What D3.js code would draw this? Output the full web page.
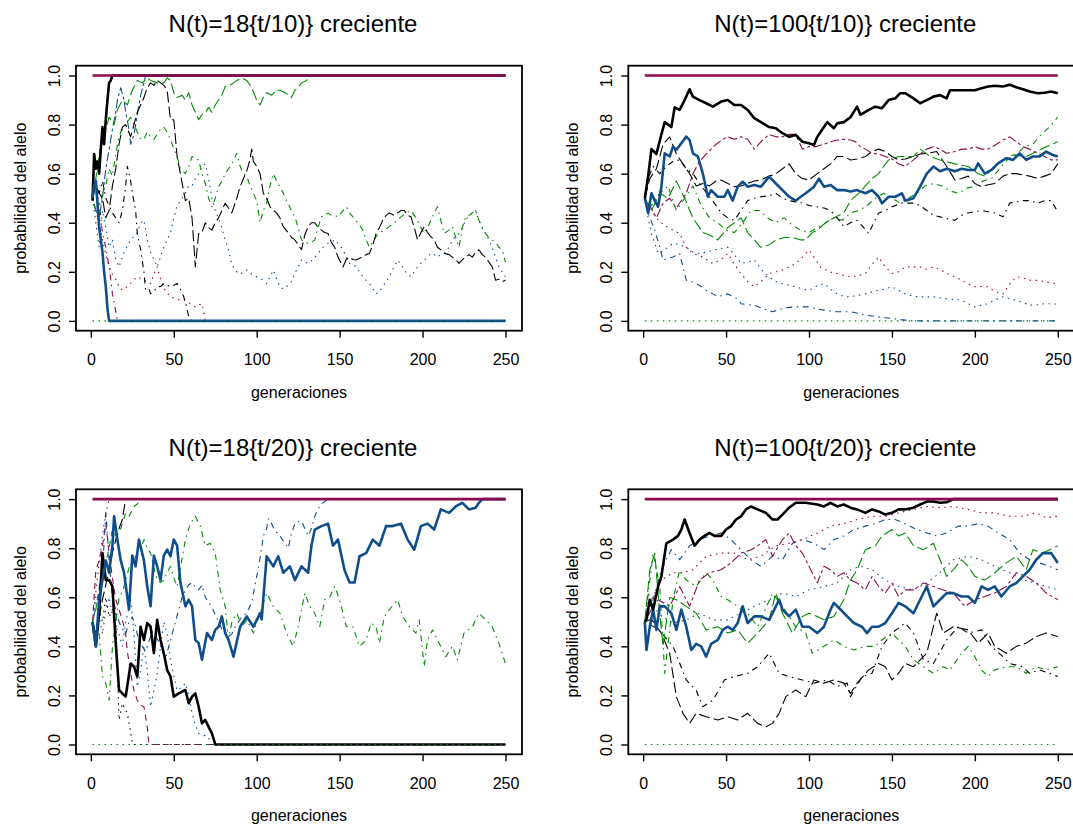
<!DOCTYPE html>
<html>
<head>
<meta charset="utf-8">
<script src="https://cdn.jsdelivr.net/npm/d3@7"></script>
<style>
  body { margin: 0; background: #fff; }
  svg { display: block; }
</style>
</head>
<body>
<svg id="chart" width="1073" height="827"></svg>
<script>
const xTicks = [0, 50, 100, 150, 200, 250];
const yTicks = [0, 0.2, 0.4, 0.6, 0.8, 1];
const titles = [
  "N(t)=18{t/10)} creciente",
  "N(t)=100{t/10)} creciente",
  "N(t)=18{t/20)} creciente",
  "N(t)=100{t/20)} creciente"
];
const xLabel = "generaciones";
const yLabel = "probabilidad del alelo";

// ---- panel 1: N(t)=18{t/10)} ----  [generación, probabilidad]
const tlBlackThick = [[1,.49],[2,.68],[3,.62],[4,.65],[5,.6],[6,.7],[7,.79],[8,.72],[9,.82],[10,.9],[11,.97],[12,.98],[13,1],[250,1]];
const tlBlueThick = [[1,.5],[2,.55],[3,.57],[4,.48],[5,.38],[6,.33],[7,.28],[8,.2],[9,.14],[10,.05],[11,0],[250,0]];
const tlBlackLong = [[1,.5],[3,.55],[5,.52],[7,.5],[9,.42],[11,.45],[13,.55],[15,.62],[17,.72],[19,.79],[21,.8],[24,.75],[26,.8],[28,.85],[30,.88],[32,.91],[34,.95],[36,.97],[38,.96],[40,.98],[42,.97],[44,.96],[46,.94],[48,.82],[50,.82],[52,.67],[54,.6],[57,.49],[59,.5],[61,.42],[63,.22],[65,.356],[67,.36],[69,.4],[71,.38],[73,.37],[75,.4],[77,.42],[79,.45],[81,.48],[83,.46],[85,.44],[88,.5],[90,.547],[92,.58],[94,.61],[96,.66],[97,.7],[98,.65],[100,.63],[102,.6],[104,.52],[106,.5],[108,.465],[110,.45],[112,.44],[114,.42],[116,.384],[119,.36],[121,.34],[123,.33],[125,.31],[127,.29],[129,.35],[131,.384],[133,.4],[135,.4],[137,.38],[139,.37],[141,.36],[143,.356],[145,.32],[147,.3],[149,.26],[152,.22],[154,.25],[156,.26],[158,.25],[160,.248],[162,.255],[164,.26],[166,.27],[168,.275],[170,.31],[172,.356],[174,.38],[176,.41],[178,.43],[180,.44],[183,.43],[185,.44],[187,.45],[189,.45],[191,.43],[193,.424],[195,.38],[197,.33],[199,.36],[201,.384],[203,.36],[205,.343],[207,.33],[209,.3],[211,.29],[213,.275],[216,.27],[218,.26],[220,.25],[222,.234],[224,.25],[226,.26],[228,.27],[230,.26],[232,.28],[234,.29],[236,.27],[238,.26],[240,.24],[242,.22],[244,.166],[246,.17],[248,.16],[250,.166]];
const tlGreenLong = [[1,.5],[3,.58],[5,.68],[7,.74],[9,.78],[11,.83],[14,.8],[16,.86],[19,.9],[22,.88],[25,.94],[28,.98],[31,.97],[34,.99],[36,.98],[40,.97],[44,.97],[46,.99],[48,.98],[50,.93],[52,.91],[55,.92],[57,.9],[59,.93],[61,.88],[63,.85],[65,.82],[67,.84],[69,.85],[71,.87],[73,.85],[75,.88],[77,.9],[79,.92],[81,.955],[84,.96],[86,.97],[88,.98],[91,.99],[94,.98],[97,.95],[100,.9],[102,.88],[104,.91],[106,.93],[109,.92],[112,.94],[114,.94],[117,.93],[119,.92],[121,.91],[123,.94],[125,.95],[127,.97],[130,.98],[133,1],[250,1]];
const tlGreenDotdash = [[1,.5],[3,.45],[5,.42],[7,.52],[9,.55],[11,.62],[13,.59],[15,.68],[17,.75],[19,.79],[21,.8],[24,.83],[26,.8],[28,.77],[30,.74],[32,.74],[34,.77],[36,.75],[38,.74],[40,.76],[42,.78],[44,.79],[46,.77],[48,.74],[50,.7],[52,.67],[54,.62],[57,.6],[59,.63],[61,.67],[63,.66],[65,.656],[67,.6],[69,.56],[71,.5],[73,.465],[75,.5],[77,.547],[79,.57],[81,.6],[83,.62],[85,.64],[88,.683],[90,.63],[92,.6],[94,.59],[96,.55],[98,.52],[100,.49],[102,.4],[104,.45],[106,.48],[108,.55],[110,.6],[112,.57],[114,.547],[116,.52],[118,.49],[121,.45],[123,.424],[125,.38],[127,.33],[129,.32],[131,.316],[133,.32],[135,.33],[137,.38],[139,.424],[141,.43],[143,.44],[145,.43],[147,.43],[149,.424],[151,.44],[154,.465],[156,.44],[158,.424],[161,.4],[164,.37],[166,.33],[168,.3],[170,.32],[172,.343],[174,.36],[177,.37],[180,.384],[183,.4],[187,.424],[190,.44],[193,.45],[195,.43],[197,.41],[199,.38],[201,.356],[203,.38],[205,.41],[207,.44],[209,.465],[211,.41],[213,.356],[216,.37],[218,.384],[220,.34],[222,.3],[224,.38],[226,.424],[228,.43],[230,.44],[232,.45],[234,.41],[236,.38],[238,.356],[240,.34],[242,.33],[244,.32],[246,.3],[248,.29],[250,.24]];
const tlBlueDot = [[1,.5],[3,.4],[5,.3],[7,.45],[9,.38],[11,.3],[13,.33],[15,.25],[17,.22],[20,.28],[24,.33],[28,.36],[30,.4],[32,.41],[34,.33],[36,.28],[38,.25],[40,.22],[42,.26],[44,.3],[46,.33],[48,.36],[50,.42],[52,.47],[55,.5],[57,.52],[59,.55],[61,.55],[63,.58],[65,.6],[67,.63],[69,.64],[71,.58],[73,.5],[75,.45],[78,.4],[81,.33],[83,.29],[85,.23],[88,.2],[90,.19],[92,.2],[94,.207],[97,.19],[100,.18],[103,.17],[106,.152],[108,.18],[110,.207],[112,.17],[114,.139],[116,.13],[118,.139],[121,.16],[123,.193],[125,.22],[127,.248],[129,.24],[131,.234],[134,.25],[137,.275],[140,.3],[143,.316],[145,.32],[147,.33],[150,.31],[152,.29],[154,.26],[156,.234],[158,.23],[160,.22],[162,.2],[164,.18],[166,.165],[168,.152],[170,.13],[172,.11],[174,.12],[176,.139],[178,.16],[180,.18],[182,.21],[185,.248],[187,.23],[189,.207],[191,.19],[193,.18],[195,.2],[197,.22],[199,.235],[201,.248],[203,.26],[205,.275],[207,.27],[209,.26],[211,.27],[213,.275],[216,.3],[218,.33],[220,.345],[222,.356],[224,.38],[226,.41],[228,.43],[230,.44],[232,.45],[234,.41],[236,.38],[238,.356],[240,.33],[242,.3],[244,.26],[246,.22],[248,.2],[250,.18]];
const tlBlueDash = [[1,.5],[3,.45],[5,.42],[7,.5],[9,.62],[11,.7],[13,.78],[15,.85],[16,.9],[18,.95],[20,.9],[21,.85],[23,.78],[24,.72],[26,.76],[27,.8],[29,.88],[30,.92],[32,.97],[33,1],[250,1]];
const tlBlackDotdash = [[1,.5],[3,.56],[5,.52],[7,.57],[9,.5],[11,.47],[13,.44],[15,.42],[17,.4],[19,.45],[21,.55],[22,.63],[24,.57],[25,.52],[27,.45],[28,.356],[30,.29],[32,.2],[33,.125],[35,.13],[36,.11],[38,.12],[40,.139],[42,.14],[44,.152],[46,.145],[48,.139],[50,.145],[52,.152],[54,.13],[56,.098],[58,.05],[59,.016],[61,0],[250,0]];
const tlMaroonDotdash = [[1,.5],[3,.52],[5,.49],[7,.356],[9,.3],[11,.22],[12,.17],[13,.11],[15,.04],[16,0],[250,0]];
const tlMaroonDot = [[1,.5],[3,.45],[5,.4],[7,.33],[9,.27],[11,.22],[13,.193],[15,.17],[17,.14],[19,.125],[22,.14],[25,.16],[28,.18],[31,.17],[34,.16],[36,.152],[38,.19],[40,.22],[42,.17],[45,.12],[48,.098],[51,.09],[54,.085],[57,.084],[60,.07],[63,.057],[65,.065],[67,.07],[68,.04],[69,0],[250,0]];
const tlZero = [[1,0],[250,0]];
const tlOne = [[1,1],[250,1]];

// ---- panel 2: N(t)=100{t/10)} ----
const trBlackThick = [[1,.5],[3,.59],[5,.7],[8,.68],[11,.76],[13,.81],[17,.79],[19,.87],[22,.86],[25,.9],[28,.944],[30,.914],[34,.9],[38,.887],[42,.873],[47,.894],[51,.9],[55,.88],[59,.88],[63,.86],[67,.826],[71,.81],[76,.79],[80,.785],[84,.765],[88,.75],[92,.758],[96,.73],[100,.724],[103,.717],[105,.75],[109,.79],[111,.81],[115,.785],[117,.805],[121,.81],[125,.83],[129,.873],[131,.84],[136,.86],[140,.873],[144,.867],[148,.9],[152,.907],[155,.928],[158,.928],[163,.907],[167,.887],[171,.9],[175,.914],[179,.92],[183,.907],[185,.94],[190,.94],[194,.94],[200,.94],[204,.948],[208,.955],[212,.958],[217,.955],[221,.962],[225,.952],[229,.944],[233,.935],[238,.928],[242,.93],[246,.935],[250,.928]];
const trBlueThick = [[1,.5],[3,.44],[5,.52],[7,.49],[9,.465],[11,.547],[13,.683],[16,.67],[18,.71],[20,.697],[23,.724],[26,.751],[28,.737],[30,.683],[33,.67],[36,.6],[39,.506],[41,.533],[45,.506],[49,.506],[51,.533],[54,.49],[57,.547],[60,.567],[63,.547],[67,.554],[71,.547],[76,.588],[80,.56],[84,.533],[88,.506],[92,.49],[95,.506],[98,.52],[103,.547],[106,.58],[109,.547],[113,.554],[117,.533],[121,.533],[125,.527],[129,.533],[134,.52],[138,.533],[142,.506],[144,.479],[148,.506],[152,.506],[156,.52],[158,.49],[163,.5],[167,.547],[171,.6],[175,.629],[179,.61],[183,.62],[188,.61],[192,.62],[196,.615],[200,.615],[202,.642],[206,.6],[210,.615],[214,.642],[219,.663],[223,.656],[227,.683],[231,.656],[235,.67],[239,.67],[243,.69],[247,.676],[250,.67]];
const trGreenLong = [[1,.5],[5,.45],[10,.52],[15,.5],[20,.57],[25,.5],[30,.42],[36,.36],[40,.35],[45,.33],[51,.38],[55,.4],[59,.42],[63,.36],[67,.33],[71,.3],[76,.31],[80,.33],[85,.34],[90,.34],[95,.33],[98,.33],[102,.36],[105,.37],[110,.4],[115,.42],[121,.44],[125,.49],[130,.52],[134,.55],[138,.58],[142,.6],[145,.63],[148,.656],[154,.67],[158,.67],[163,.67],[167,.7],[173,.67],[179,.656],[188,.64],[196,.629],[202,.6],[206,.59],[212,.629],[217,.656],[223,.676],[231,.67],[240,.7],[250,.73]];
const trGreenDotdash = [[1,.5],[5,.47],[10,.52],[15,.55],[20,.45],[25,.5],[30,.55],[35,.47],[40,.42],[45,.4],[50,.37],[55,.36],[60,.4],[65,.45],[70,.45],[75,.42],[80,.4],[85,.42],[90,.39],[95,.37],[100,.36],[105,.38],[110,.4],[115,.42],[120,.41],[125,.44],[130,.45],[135,.47],[140,.5],[145,.52],[150,.5],[155,.48],[160,.5],[165,.52],[170,.55],[175,.56],[180,.55],[185,.53],[190,.52],[195,.54],[200,.55],[205,.57],[210,.58],[215,.62],[220,.66],[225,.68],[230,.71],[235,.72],[240,.76],[245,.79],[250,.83]];
const trMaroonTwodash = [[1,.5],[4,.47],[8,.42],[12,.48],[16,.5],[20,.46],[24,.5],[26,.52],[30,.6],[34,.65],[38,.68],[41,.7],[44,.72],[48,.74],[51,.75],[55,.74],[59,.75],[63,.74],[67,.7],[71,.73],[76,.76],[80,.75],[84,.75],[88,.76],[92,.76],[96,.7],[100,.71],[104,.71],[109,.72],[113,.73],[117,.737],[121,.74],[125,.737],[128,.73],[131,.71],[134,.7],[138,.683],[142,.68],[146,.67],[150,.66],[154,.64],[158,.63],[163,.656],[167,.68],[171,.7],[175,.71],[179,.7],[183,.683],[188,.69],[192,.7],[196,.7],[200,.71],[204,.7],[208,.7],[213,.72],[217,.737],[221,.75],[225,.73],[229,.71],[233,.7],[238,.683],[242,.67],[246,.656],[250,.656]];
const trBlackDash = [[1,.5],[4,.58],[8,.62],[12,.72],[16,.75],[20,.68],[24,.64],[28,.6],[32,.55],[36,.56],[40,.55],[44,.57],[47,.574],[51,.56],[55,.547],[59,.55],[63,.56],[67,.57],[71,.574],[76,.59],[80,.6],[84,.62],[88,.64],[92,.6],[96,.58],[100,.574],[105,.6],[109,.62],[113,.64],[117,.67],[121,.67],[125,.656],[129,.66],[134,.67],[138,.69],[142,.7],[146,.69],[150,.67],[154,.656],[158,.66],[163,.67],[167,.68],[171,.683],[177,.69],[180,.66],[183,.63],[188,.574],[192,.58],[196,.59],[200,.56],[204,.547],[208,.555],[212,.56],[217,.59],[221,.6],[225,.6],[229,.595],[233,.59],[238,.58],[242,.59],[246,.6],[250,.64]];
const trBlackDotdash = [[1,.5],[3,.58],[6,.63],[10,.6],[14,.63],[18,.65],[22,.656],[26,.62],[30,.6],[35,.55],[40,.506],[44,.47],[47,.44],[51,.42],[55,.41],[59,.45],[63,.49],[67,.5],[71,.506],[76,.51],[80,.52],[84,.5],[88,.49],[92,.485],[96,.48],[100,.47],[105,.465],[109,.46],[113,.45],[117,.42],[121,.384],[125,.4],[129,.41],[133,.38],[136,.356],[139,.4],[142,.44],[146,.45],[150,.465],[156,.48],[163,.48],[167,.47],[171,.45],[175,.43],[179,.424],[184,.415],[188,.41],[192,.43],[196,.44],[200,.445],[204,.45],[208,.445],[212,.44],[217,.424],[221,.48],[225,.485],[229,.49],[233,.49],[238,.48],[242,.49],[246,.49],[250,.445]];
const trMaroonDot = [[1,.5],[5,.45],[9,.41],[15,.38],[22,.356],[26,.3],[30,.275],[36,.26],[42,.234],[47,.25],[51,.275],[55,.23],[59,.193],[63,.16],[67,.139],[71,.16],[76,.193],[80,.2],[84,.207],[88,.22],[92,.234],[96,.26],[100,.288],[104,.25],[107,.22],[112,.2],[117,.193],[121,.185],[125,.18],[130,.185],[134,.193],[138,.23],[142,.26],[146,.22],[150,.193],[154,.2],[158,.22],[163,.22],[167,.22],[171,.21],[175,.22],[179,.21],[183,.193],[188,.18],[192,.166],[196,.15],[200,.139],[204,.14],[208,.139],[212,.12],[217,.11],[221,.15],[225,.18],[229,.175],[233,.166],[238,.165],[242,.16],[246,.155],[250,.152]];
const trBlueDot = [[1,.5],[3,.42],[5,.356],[9,.275],[13,.29],[18,.316],[22,.31],[26,.3],[30,.28],[34,.275],[38,.28],[42,.288],[47,.295],[51,.3],[55,.27],[59,.234],[63,.24],[67,.248],[71,.21],[76,.18],[80,.16],[84,.152],[88,.145],[92,.139],[96,.13],[100,.125],[104,.14],[109,.152],[113,.13],[117,.11],[121,.1],[125,.098],[130,.105],[134,.11],[138,.118],[142,.125],[146,.13],[150,.139],[154,.125],[158,.11],[163,.1],[167,.098],[171,.098],[175,.098],[179,.094],[183,.09],[188,.087],[192,.084],[196,.07],[200,.057],[204,.064],[208,.07],[212,.085],[217,.098],[221,.09],[225,.084],[229,.075],[233,.064],[238,.066],[242,.07],[246,.07],[250,.068]];
const trBlueDotdash = [[1,.5],[3,.44],[7,.37],[10,.3],[12,.248],[15,.255],[18,.26],[22,.275],[24,.22],[26,.166],[29,.16],[32,.152],[35,.14],[38,.125],[42,.11],[45,.098],[48,.105],[51,.11],[54,.1],[57,.09],[59,.07],[63,.066],[67,.064],[72,.05],[78,.037],[84,.05],[88,.055],[92,.057],[96,.057],[100,.057],[104,.05],[109,.044],[113,.04],[117,.037],[121,.037],[125,.037],[130,.03],[134,.023],[138,.02],[142,.016],[146,.013],[150,.01],[154,.006],[158,.003],[163,0],[250,0]];
const trZero = [[1,0],[250,0]];
const trOne = [[1,1],[250,1]];

// ---- panel 3: N(t)=18{t/20)} ----
const blBlueThick = [[1,.5],[3,.4],[5,.59],[7,.67],[9,.75],[11,.7],[13,.81],[14,.93],[16,.835],[18,.75],[20,.7],[23,.55],[25,.77],[27,.726],[29,.835],[32,.75],[34,.644],[36,.563],[38,.77],[40,.726],[42,.67],[44,.77],[46,.794],[48,.767],[50,.835],[52,.81],[54,.66],[57,.563],[59,.59],[61,.563],[63,.426],[65,.413],[67,.345],[70,.454],[73,.426],[75,.467],[77,.48],[79,.522],[81,.454],[83,.426],[86,.358],[90,.48],[94,.522],[98,.48],[102,.535],[103,.51],[106,.767],[110,.726],[113,.767],[116,.7],[120,.726],[123,.67],[127,.726],[131,.7],[133,.81],[135,.876],[139,.89],[143,.9],[146,.81],[149,.835],[153,.71],[156,.66],[159,.66],[162,.767],[166,.78],[170,.835],[174,.81],[178,.89],[182,.89],[187,.9],[191,.835],[195,.794],[199,.89],[203,.9],[207,.876],[211,.958],[216,.944],[220,.97],[224,.985],[228,.958],[232,.965],[234,.985],[236,1],[250,1]];
const blBlackThick = [[1,.5],[3,.4],[5,.535],[7,.78],[9,.67],[11,.67],[13,.644],[15,.413],[17,.222],[19,.208],[21,.195],[24,.33],[26,.317],[28,.277],[30,.48],[32,.426],[34,.495],[36,.48],[38,.372],[40,.508],[42,.426],[44,.372],[46,.304],[48,.277],[50,.195],[53,.208],[57,.222],[59,.168],[61,.195],[63,.208],[65,.154],[67,.086],[69,.1],[71,.072],[73,.045],[75,0],[250,0]];
const blGreenDotdash = [[1,.5],[3,.43],[5,.45],[7,.277],[9,.25],[11,.18],[13,.4],[15,.5],[17,.6],[19,.62],[21,.67],[23,.72],[25,.74],[28,.78],[30,.8],[32,.835],[34,.8],[36,.78],[38,.72],[40,.67],[42,.66],[44,.67],[46,.7],[48,.726],[50,.68],[52,.644],[54,.72],[57,.835],[60,.9],[63,.93],[66,.89],[69,.81],[72,.82],[75,.78],[78,.63],[81,.563],[83,.426],[85,.5],[88,.535],[91,.48],[94,.508],[98,.454],[102,.535],[106,.617],[110,.563],[114,.535],[118,.454],[122,.4],[125,.48],[129,.617],[132,.563],[135,.535],[138,.48],[141,.59],[144,.6],[147,.644],[150,.59],[154,.48],[158,.48],[162,.4],[166,.426],[169,.495],[172,.48],[174,.413],[177,.522],[180,.55],[185,.59],[188,.522],[192,.48],[196,.454],[198,.508],[201,.317],[203,.426],[206,.467],[210,.413],[214,.358],[218,.4],[221,.345],[225,.454],[230,.48],[234,.535],[238,.508],[242,.48],[246,.413],[250,.33]];
const blGreenDash = [[1,.5],[3,.55],[5,.64],[7,.7],[9,.74],[11,.8],[13,.876],[15,.85],[17,.86],[19,.9],[21,.944],[23,.93],[26,.97],[28,.98],[30,1],[250,1]];
const blBlueDotdash = [[1,.5],[3,.56],[5,.62],[7,.7],[9,.95],[11,.75],[13,.6],[15,.55],[17,.5],[19,.47],[21,.45],[23,.5],[25,.52],[27,.48],[29,.42],[31,.4],[33,.38],[35,.42],[37,.46],[39,.44],[41,.42],[43,.38],[45,.35],[47,.4],[49,.45],[51,.5],[53,.55],[55,.6],[57,.63],[59,.65],[61,.66],[63,.64],[65,.63],[67,.65],[69,.6],[71,.58],[73,.56],[75,.53],[77,.5],[79,.47],[81,.46],[83,.44],[85,.45],[87,.48],[89,.5],[91,.52],[93,.53],[95,.55],[97,.58],[99,.65],[101,.72],[103,.8],[104,.85],[106,.88],[107,.92],[109,.9],[111,.87],[113,.86],[115,.84],[117,.82],[119,.8],[121,.86],[123,.9],[125,.91],[127,.91],[129,.88],[131,.85],[133,.88],[135,.93],[137,.96],[139,.98],[141,.99],[143,1],[250,1]];
const blBlueDot = [[1,.5],[3,.6],[5,.52],[7,.45],[9,.55],[11,.6],[13,.53],[15,.48],[17,.45],[19,.4],[21,.5],[24,.59],[26,.45],[28,.235],[30,.3],[32,.4],[34,.3],[36,.154],[38,.22],[40,.29],[42,.4],[44,.5],[46,.45],[48,.345],[50,.28],[52,.22],[55,.235],[57,.25],[59,.2],[61,.127],[63,.08],[65,.045],[67,.04],[69,.035],[71,.03],[72,0],[250,0]];
const blBlackDot = [[1,.5],[3,.45],[5,.55],[7,.5],[9,.6],[11,.52],[13,.55],[15,.535],[16,.3],[17,.1],[19,.168],[21,.14],[22,.127],[24,.05],[25,0],[250,0]];
const blBlackDash = [[1,.5],[3,.45],[5,.52],[7,.59],[9,.65],[11,.71],[13,.78],[15,.835],[17,.88],[19,.917],[20,.96],[21,1],[250,1]];
const blMaroonDash = [[1,.5],[3,.71],[5,.75],[7,.81],[9,.9],[11,.78],[13,.68],[15,.59],[17,.55],[19,.508],[21,.45],[22,.38],[24,.29],[26,.22],[28,.18],[30,.16],[32,.154],[34,.072],[35,0],[250,0]];
const blMaroonDot = [[1,.5],[3,.62],[5,.74],[7,.85],[8,.9],[10,.97],[11,1],[250,1]];
const blZero = [[1,0],[250,0]];
const blOne = [[1,1],[250,1]];

// ---- panel 4: N(t)=100{t/20)} ----
const brBlackThick = [[1,.5],[2,.51],[4,.59],[6,.55],[9,.644],[11,.685],[14,.82],[18,.835],[21,.85],[23,.876],[25,.917],[28,.862],[31,.81],[34,.835],[37,.85],[40,.862],[43,.85],[47,.85],[50,.876],[53,.89],[56,.917],[59,.93],[62,.958],[65,.97],[69,.958],[74,.944],[78,.917],[81,.917],[84,.937],[88,.965],[92,.985],[98,.985],[105,.978],[109,.97],[113,.985],[117,.97],[121,.978],[125,.965],[129,.958],[134,.944],[138,.958],[142,.95],[146,.937],[150,.944],[154,.958],[158,.958],[163,.965],[167,.978],[171,.99],[175,.99],[179,.985],[183,.987],[187,1],[250,1]];
const brBlueThick = [[1,.5],[2,.385],[4,.48],[6,.55],[8,.467],[10,.563],[13,.563],[17,.535],[20,.467],[23,.55],[26,.48],[29,.385],[32,.41],[35,.4],[38,.358],[41,.41],[45,.426],[48,.467],[51,.48],[54,.467],[57,.495],[60,.563],[63,.495],[67,.522],[71,.522],[76,.508],[80,.563],[82,.59],[84,.55],[88,.522],[92,.55],[96,.48],[100,.48],[105,.454],[109,.48],[113,.55],[115,.577],[119,.55],[123,.522],[127,.495],[132,.48],[135,.454],[138,.48],[142,.48],[146,.495],[150,.535],[154,.577],[158,.563],[163,.535],[167,.59],[171,.644],[175,.563],[179,.59],[183,.617],[187,.617],[192,.603],[196,.603],[200,.577],[204,.644],[208,.63],[212,.644],[216,.603],[221,.644],[225,.658],[229,.685],[233,.712],[237,.753],[241,.78],[246,.78],[250,.74]];
const brGreenDash = [[1,.5],[4,.71],[7,.78],[10,.535],[12,.4],[16,.6],[20,.59],[26,.563],[32,.535],[38,.467],[45,.48],[51,.454],[57,.467],[63,.413],[69,.454],[76,.508],[80,.617],[84,.535],[90,.454],[96,.522],[100,.535],[105,.522],[109,.508],[115,.522],[121,.59],[125,.67],[129,.712],[134,.794],[140,.81],[144,.85],[150,.876],[154,.85],[158,.862],[163,.81],[169,.794],[175,.82],[179,.753],[183,.685],[187,.712],[192,.753],[196,.726],[200,.685],[206,.67],[212,.7],[219,.74],[225,.767],[231,.712],[235,.794],[241,.78],[250,.81]];
const brGreenDotdash = [[1,.5],[6,.78],[10,.644],[13,.29],[18,.59],[22,.71],[26,.67],[32,.644],[38,.7],[42,.67],[47,.603],[51,.59],[57,.563],[63,.535],[69,.48],[78,.617],[84,.563],[92,.48],[98,.454],[102,.372],[109,.4],[115,.426],[121,.4],[127,.385],[134,.4],[140,.4],[144,.426],[150,.454],[154,.426],[158,.4],[163,.345],[169,.317],[175,.29],[181,.317],[185,.304],[192,.372],[196,.4],[200,.358],[204,.304],[208,.277],[212,.304],[219,.317],[225,.317],[231,.29],[237,.317],[243,.304],[250,.317]];
const brMaroonDotdash = [[1,.5],[5,.55],[9,.59],[16,.563],[22,.644],[28,.563],[34,.67],[40,.7],[47,.712],[53,.74],[59,.78],[65,.794],[69,.81],[74,.835],[78,.767],[84,.835],[88,.862],[92,.81],[96,.78],[100,.726],[105,.658],[109,.726],[113,.712],[117,.685],[121,.7],[125,.67],[129,.658],[134,.63],[138,.685],[142,.644],[146,.617],[150,.658],[154,.603],[158,.63],[163,.63],[169,.658],[175,.644],[181,.63],[187,.617],[194,.563],[200,.59],[206,.603],[212,.617],[219,.644],[225,.7],[231,.685],[237,.658],[243,.617],[250,.59]];
const brMaroonDot = [[1,.5],[5,.59],[11,.67],[18,.7],[24,.7],[30,.712],[38,.767],[47,.78],[55,.78],[63,.753],[71,.767],[80,.81],[88,.82],[96,.835],[105,.862],[113,.89],[121,.9],[129,.917],[138,.93],[146,.93],[154,.944],[163,.958],[171,.97],[179,.965],[187,.97],[196,.958],[204,.944],[212,.944],[221,.93],[229,.93],[237,.944],[243,.924],[250,.93]];
const brBlueDotdash = [[1,.5],[6,.59],[11,.712],[17,.794],[22,.753],[28,.81],[34,.835],[40,.85],[47,.862],[53,.835],[59,.794],[65,.753],[71,.726],[78,.767],[84,.753],[90,.82],[96,.835],[103,.82],[109,.794],[115,.835],[121,.85],[127,.876],[134,.89],[140,.9],[146,.917],[152,.917],[158,.9],[165,.876],[171,.862],[177,.85],[183,.862],[190,.89],[196,.89],[202,.9],[208,.89],[214,.862],[221,.835],[227,.78],[233,.753],[239,.74],[245,.726],[250,.712]];
const brBlueDot = [[1,.5],[3,.617],[9,.535],[18,.495],[26,.508],[34,.535],[42,.508],[51,.508],[59,.535],[67,.563],[76,.59],[84,.617],[92,.603],[100,.63],[109,.644],[117,.658],[125,.712],[131,.726],[138,.712],[146,.67],[154,.644],[163,.63],[171,.658],[179,.7],[187,.753],[196,.767],[204,.753],[212,.726],[221,.7],[229,.67],[237,.658],[243,.644],[250,.63]];
const brBlackLong = [[1,.5],[5,.51],[11,.454],[16,.372],[20,.195],[24,.127],[28,.086],[32,.127],[38,.113],[45,.1],[51,.113],[57,.1],[63,.127],[69,.086],[74,.072],[78,.086],[82,.127],[86,.195],[92,.222],[98,.195],[103,.263],[109,.25],[115,.263],[121,.25],[125,.208],[129,.25],[136,.304],[142,.33],[146,.317],[150,.263],[154,.29],[158,.33],[163,.317],[167,.345],[171,.372],[177,.535],[181,.454],[187,.48],[196,.467],[202,.413],[208,.454],[212,.4],[219,.372],[225,.4],[231,.413],[237,.44],[243,.454],[250,.44]];
const brBlackDotdash = [[1,.5],[9,.47],[18,.4],[26,.263],[32,.22],[36,.154],[42,.18],[49,.263],[55,.277],[63,.29],[69,.317],[76,.372],[82,.29],[88,.277],[96,.263],[103,.25],[111,.263],[117,.236],[123,.25],[125,.195],[132,.277],[138,.29],[144,.4],[150,.454],[158,.495],[163,.454],[169,.345],[175,.33],[183,.426],[190,.48],[196,.454],[204,.467],[210,.4],[217,.358],[221,.33],[229,.317],[233,.29],[239,.304],[250,.277]];
const brZero = [[1,0],[250,0]];
const brOne = [[1,1],[250,1]];

// ---- estilos ----
const colors = { black: "#000000", blue: "#104E8B", green: "#008B00", maroon: "#8B0A50" };
const dashes = { solid: null, dashed: "6,5", dotted: "1.5,4.5", dotdash: "1.5,4.5,6,4.5", longdash: "11,4", twodash: "3,3,9,3" };

const panels = [
  { title: titles[0], box: { left: 76, right: 522, top: 65.7, bottom: 330.7 }, series: [
    { d: tlMaroonDot, col: "maroon", lty: "dotted" },
    { d: tlMaroonDotdash, col: "maroon", lty: "dotdash" },
    { d: tlBlackDotdash, col: "black", lty: "dotdash" },
    { d: tlBlueDot, col: "blue", lty: "dotted" },
    { d: tlBlueDash, col: "blue", lty: "twodash" },
    { d: tlGreenDotdash, col: "green", lty: "dotdash" },
    { d: tlGreenLong, col: "green", lty: "longdash" },
    { d: tlBlackLong, col: "black", lty: "longdash" },
    { d: tlBlackThick, col: "black", lty: "solid", thick: true },
    { d: tlBlueThick, col: "blue", lty: "solid", thick: true },
    { d: tlZero, col: "green", lty: "dotted" },
    { d: tlOne, col: "maroon", lty: "solid", thick: true }
  ]},
  { title: titles[1], box: { left: 628.3, right: 1074.3, top: 65.7, bottom: 330.7 }, series: [
    { d: trBlueDotdash, col: "blue", lty: "dotdash" },
    { d: trBlueDot, col: "blue", lty: "dotted" },
    { d: trMaroonDot, col: "maroon", lty: "dotted" },
    { d: trBlackDotdash, col: "black", lty: "dotdash" },
    { d: trBlackDash, col: "black", lty: "longdash" },
    { d: trMaroonTwodash, col: "maroon", lty: "twodash" },
    { d: trGreenDotdash, col: "green", lty: "dotdash" },
    { d: trGreenLong, col: "green", lty: "longdash" },
    { d: trBlueThick, col: "blue", lty: "solid", thick: true },
    { d: trBlackThick, col: "black", lty: "solid", thick: true },
    { d: trZero, col: "green", lty: "dotted" },
    { d: trOne, col: "maroon", lty: "solid", thick: true }
  ]},
  { title: titles[2], box: { left: 76, right: 522, top: 489.3, bottom: 754.3 }, series: [
    { d: blMaroonDot, col: "maroon", lty: "dotted" },
    { d: blMaroonDash, col: "maroon", lty: "dashed" },
    { d: blBlackDash, col: "black", lty: "longdash" },
    { d: blBlackDot, col: "black", lty: "dotted" },
    { d: blBlueDot, col: "blue", lty: "dotted" },
    { d: blBlueDotdash, col: "blue", lty: "dotdash" },
    { d: blGreenDash, col: "green", lty: "dashed" },
    { d: blGreenDotdash, col: "green", lty: "dotdash" },
    { d: blBlackThick, col: "black", lty: "solid", thick: true },
    { d: blBlueThick, col: "blue", lty: "solid", thick: true },
    { d: blZero, col: "green", lty: "dotted" },
    { d: blOne, col: "maroon", lty: "solid", thick: true }
  ]},
  { title: titles[3], box: { left: 628.3, right: 1074.3, top: 489.3, bottom: 754.3 }, series: [
    { d: brBlackDotdash, col: "black", lty: "dotdash" },
    { d: brBlackLong, col: "black", lty: "longdash" },
    { d: brBlueDot, col: "blue", lty: "dotted" },
    { d: brBlueDotdash, col: "blue", lty: "dotdash" },
    { d: brMaroonDot, col: "maroon", lty: "dotted" },
    { d: brMaroonDotdash, col: "maroon", lty: "twodash" },
    { d: brGreenDotdash, col: "green", lty: "dotdash" },
    { d: brGreenDash, col: "green", lty: "longdash" },
    { d: brBlueThick, col: "blue", lty: "solid", thick: true },
    { d: brBlackThick, col: "black", lty: "solid", thick: true },
    { d: brZero, col: "green", lty: "dotted" },
    { d: brOne, col: "maroon", lty: "solid", thick: true }
  ]}
];

const font = '"Liberation Sans", Arial, Helvetica, sans-serif';
const svg = d3.select("#chart");
svg.append("rect").attr("width", 1073).attr("height", 827).attr("fill", "#fff");

panels.forEach((p, i) => drawPanel(p, i));

function drawPanel(p, i) {
  const b = p.box;
  // R-style 4% extension on both axes
  const x = d3.scaleLinear().domain([1 - 0.04 * 249, 250 + 0.04 * 249]).range([b.left, b.right]);
  const y = d3.scaleLinear().domain([-0.04, 1.04]).range([b.bottom, b.top]);

  const g = svg.append("g");
  g.append("clipPath").attr("id", "clip" + i)
    .append("rect")
    .attr("x", b.left).attr("y", b.top)
    .attr("width", b.right - b.left).attr("height", b.bottom - b.top);

  const line = d3.line()
    .x(d => x(d[0]))
    .y(d => y(d[1]));

  const lines = g.append("g").attr("clip-path", `url(#clip${i})`);
  p.series.forEach(s => {
    lines.append("path")
      .datum(s.d)
      .attr("fill", "none")
      .attr("stroke", colors[s.col])
      .attr("stroke-width", s.thick ? 2.6 : 1.1)
      .attr("stroke-dasharray", dashes[s.lty])
      .attr("stroke-linejoin", "round")
      .attr("d", line);
  });

  g.append("rect")
    .attr("x", b.left).attr("y", b.top)
    .attr("width", b.right - b.left).attr("height", b.bottom - b.top)
    .attr("fill", "none")
    .attr("stroke", "#000")
    .attr("stroke-width", 1.8);

  const xAxis = g.append("g")
    .attr("transform", `translate(0, ${b.bottom})`)
    .call(d3.axisBottom(x).tickValues(xTicks).tickSize(7).tickPadding(16).tickFormat(d3.format("d")));
  xAxis.select(".domain").remove();
  xAxis.selectAll("line").attr("stroke-width", 1.4);
  xAxis.selectAll("text").attr("font-size", 16).attr("font-family", font).attr("fill", "#000");

  const yAxis = g.append("g")
    .attr("transform", `translate(${b.left}, 0)`)
    .call(d3.axisLeft(y).tickValues(yTicks).tickSize(7).tickFormat(d3.format(".1f")));
  yAxis.select(".domain").remove();
  yAxis.selectAll("line").attr("stroke-width", 1.4);
  yAxis.selectAll("text")
    .attr("transform", "rotate(-90)")
    .attr("x", 0)
    .attr("y", -16)
    .attr("dy", 0)
    .attr("text-anchor", "middle")
    .attr("font-size", 16)
    .attr("font-family", font)
    .attr("fill", "#000");

  const cx = (b.left + b.right) / 2;
  const cy = (b.top + b.bottom) / 2;

  // R's title sits slightly left of the plot centre in the original
  g.append("text")
    .attr("x", cx - 6)
    .attr("y", b.top - 33.4)
    .attr("text-anchor", "middle")
    .attr("font-family", font)
    .attr("font-size", 24)
    .text(p.title);

  g.append("text")
    .attr("x", cx)
    .attr("y", b.bottom + 67)
    .attr("text-anchor", "middle")
    .attr("font-family", font)
    .attr("font-size", 16)
    .text(xLabel);

  g.append("text")
    .attr("transform", `translate(${b.left - 50}, ${cy}) rotate(-90)`)
    .attr("text-anchor", "middle")
    .attr("font-family", font)
    .attr("font-size", 16)
    .text(yLabel);
}
</script>
</body>
</html>
